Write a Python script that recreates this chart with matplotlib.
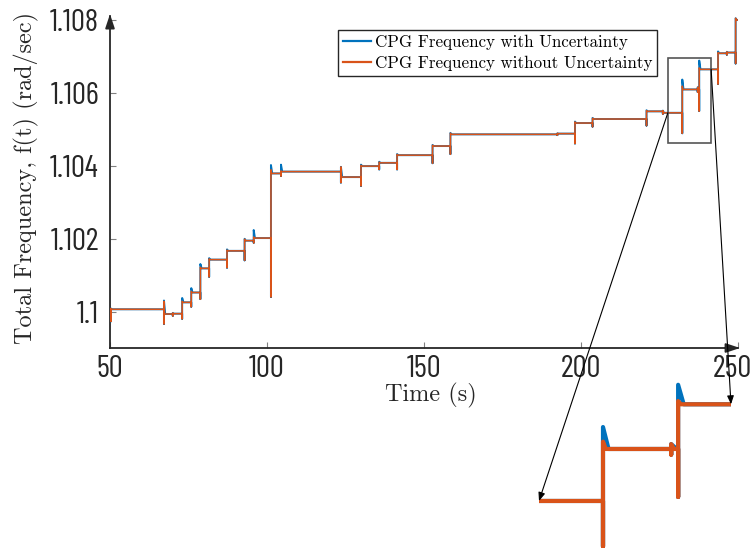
import matplotlib
matplotlib.use("Agg")
import matplotlib.pyplot as plt
from matplotlib import font_manager as fm
from matplotlib.font_manager import FontProperties
from matplotlib.textpath import TextPath
from matplotlib.transforms import ScaledTranslation
from matplotlib.patches import Rectangle, ConnectionPatch
from matplotlib.lines import Line2D

# numeric tick labels use a tall, narrow sans face: choose the installed
# upright sans font whose "1.108" has the most compact width/height shape
TICK_SHAPE = 2.09       # width / digit height of "1.108"
TICK_DIGIT_PX = 22.5    # digit height in pixels


def _is_plain_sans(f):
    tag = (f.name + " " + f.fname).lower()
    bad = ("mono", "serif", "cjk", "math", "symbol", "display", "emoji",
           "italic", "oblique", "cmr", "cmex", "cmsy", "cmmi", "cmtt", "cmb",
           "stix")
    if any(b in tag for b in bad):
        return False
    if f.style != "normal" or f.weight not in (400, "normal", "regular"):
        return False
    return True


_best, _best_err, _best_h = None, None, None
for f in fm.fontManager.ttflist:
    if not _is_plain_sans(f):
        continue
    try:
        ext = TextPath((0, 0), "1.108", size=100,
                       prop=FontProperties(fname=f.fname)).get_extents()
    except Exception:
        continue
    if ext.height <= 0:
        continue
    err = abs(ext.width / ext.height - TICK_SHAPE)
    if _best_err is None or err < _best_err:
        _best, _best_err, _best_h = f, err, ext.height

if _best is not None:
    TICK_SIZE = TICK_DIGIT_PX / _best_h * 100 * 0.72
    TICK_PROP = FontProperties(fname=_best.fname, size=TICK_SIZE)
else:
    TICK_PROP = FontProperties(family="DejaVu Sans", size=17)

BLUE = "#0072BD"
ORANGE = "#D95319"
SERIF = "cmr10"
plt.rcParams['axes.formatter.use_mathtext'] = True

# ---- data: frequency command switching events -----------------------------
t_start, t_end = 48.0, 250.0
level_start = 1.10008

step_time = [50.3, 67.2, 70.0, 73.0, 75.9, 78.8, 81.6, 87.3, 92.9, 95.8,
             101.3, 104.5, 123.6, 130.0, 135.8, 141.5, 152.8, 158.5, 192.6,
             198.2, 203.8, 221.0, 226.2, 232.4, 237.3, 237.8, 243.8, 246.6,
             249.4]
# settled frequency after each event
level = [1.10008, 1.09995, 1.09996, 1.10027, 1.10054, 1.10120, 1.10144,
         1.10168, 1.10196, 1.10203, 1.10380, 1.10385, 1.10370, 1.10400,
         1.10409, 1.10430, 1.10455, 1.10487, 1.10489, 1.10518, 1.10529,
         1.10550, 1.10546, 1.10610, 1.10610, 1.10665, 1.10709, 1.10711,
         1.10800]
# lowest value of the switching transient
dip = [1.09975, 1.09968, 1.09990, 1.09982, 1.10015, 1.10036, 1.10097,
       1.10122, 1.10142, 1.10190, 1.10042, 1.10373, 1.10355, 1.10346,
       1.10391, 1.10391, 1.10408, 1.10433, 1.10485, 1.10462, 1.10508,
       1.10511, 1.10543, 1.10490, 1.10603, 1.10551, 1.10625, 1.10705,
       1.10681]
# overshoot without uncertainty
peak_nominal = [1.10010, 1.10030, 1.09998, 1.10030, 1.10057, 1.10123,
                1.10146, 1.10170, 1.10200, 1.10206, 1.10390, 1.10387,
                1.10398, 1.10402, 1.10411, 1.10432, 1.10457, 1.10490,
                1.10490, 1.10521, 1.10531, 1.10552, 1.10552, 1.10619,
                1.10616, 1.10669, 1.10711, 1.10713, 1.10805]
# overshoot with uncertainty
peak_uncertain = [1.10010, 1.10032, 1.09998, 1.10039, 1.10066, 1.10132,
                  1.10148, 1.10172, 1.10201, 1.10225, 1.10403, 1.10404,
                  1.10398, 1.10404, 1.10412, 1.10433, 1.10458, 1.10491,
                  1.10490, 1.10522, 1.10532, 1.10553, 1.10552, 1.10637,
                  1.10616, 1.10689, 1.10714, 1.10713, 1.10805]

x_ticks = [50, 100, 150, 200, 250]
x_tick_labels = ["50", "100", "150", "200", "250"]
y_ticks = [1.1, 1.102, 1.104, 1.106, 1.108]
y_tick_labels = ["1.1", "1.102", "1.104", "1.106", "1.108"]

zoom_t = (227.8, 241.6)
zoom_f = (1.10464, 1.10696)
link_left = (227.8, 1.10546)
link_right = (241.6, 1.10665)


def trace(peaks, settle):
    t, v = [t_start], [level_start]
    prev = level_start
    for ti, lv, lo, hi in zip(step_time, level, dip, peaks):
        t += [ti, ti, ti, ti + settle]
        v += [prev, lo, hi, lv]
        prev = lv
    t.append(t_end)
    v.append(prev)
    return t, v


tu, fu = trace(peak_uncertain, 0.4)
tn, fn = trace(peak_nominal, 0.2)

# ---- figure ---------------------------------------------------------------
W, H = 754, 548
fig = plt.figure(figsize=(W / 100, H / 100), dpi=100)


def fx(px):
    return px / W


def fy(py):
    return 1 - py / H


ax = fig.add_axes([fx(110), fy(348), fx(737.5) - fx(110), fy(16.4) - fy(348)])
ax.plot(tu, fu, color=BLUE, lw=1.4, zorder=3)
ax.plot(tn, fn, color=ORANGE, lw=1.1, zorder=4)
ax.set_xlim(50, 250)
ax.set_ylim(1.09902, 1.1081)

for s in ("top", "right"):
    ax.spines[s].set_visible(False)
for s in ("left", "bottom"):
    ax.spines[s].set_color("#262626")
    ax.spines[s].set_linewidth(1.3)

ax.set_xticks(x_ticks)
ax.set_xticklabels(x_tick_labels)
ax.set_yticks(y_ticks)
ax.set_yticklabels(y_tick_labels)
ax.tick_params(direction="in", length=4, width=0.8, color="#808080",
               labelcolor="#262626")
ax.tick_params(axis="x", pad=5)
ax.tick_params(axis="y", pad=8)
for lab in ax.get_xticklabels() + ax.get_yticklabels():
    lab.set_fontproperties(TICK_PROP)

# keep the last time label inside the canvas
last = ax.xaxis.get_major_ticks()[-1].label1
last.set_transform(last.get_transform()
                   + ScaledTranslation(-5 / 100, 0, fig.dpi_scale_trans))

# axis arrowheads
arrow_style = "-|>,head_length=0.6,head_width=0.2"
ax.annotate("", xy=(1.004, 0), xytext=(0.98, 0), xycoords="axes fraction",
            arrowprops=dict(arrowstyle=arrow_style, color="#262626", lw=1.3,
                            mutation_scale=14, shrinkA=0, shrinkB=0))
ax.annotate("", xy=(0, 1.007), xytext=(0, 0.97), xycoords="axes fraction",
            arrowprops=dict(arrowstyle=arrow_style, color="#262626", lw=1.3,
                            mutation_scale=14, shrinkA=0, shrinkB=0))

# zoom window
ax.add_patch(Rectangle((zoom_t[0], zoom_f[0]), zoom_t[1] - zoom_t[0],
                       zoom_f[1] - zoom_f[0], fill=False, ec="#555555",
                       lw=1.2, zorder=5))

# labels
fig.text(fx(431), fy(395), "Time (s)", family=SERIF, size=17.5,
         ha="center", va="center", color="#262626")
fig.text(fx(26), fy(178), "Total Frequency, f(t) (rad/sec)", family=SERIF,
         size=17.5, rotation=90, ha="center", va="center", color="#262626")

# legend
handles = [Line2D([], [], color=BLUE, lw=1.6),
           Line2D([], [], color=ORANGE, lw=1.6)]
leg = ax.legend(handles, ["CPG Frequency with Uncertainty",
                          "CPG Frequency without Uncertainty"],
                loc="upper left", bbox_to_anchor=(fx(338), fy(30)),
                bbox_transform=fig.transFigure, borderaxespad=0,
                prop={"family": SERIF, "size": 12.2}, handlelength=1.66,
                handletextpad=0.2, borderpad=0.3, labelspacing=0.32,
                fancybox=False, framealpha=1, edgecolor="#262626")
leg.get_frame().set_linewidth(1.0)

# magnified view
axin = fig.add_axes([fx(539), fy(567.6), fx(731) - fx(539),
                     fy(379.1) - fy(567.6)])
axin.plot(tu, fu, color=BLUE, lw=3.0, solid_capstyle="round")
axin.plot(tn, fn, color=ORANGE, lw=3.0, solid_capstyle="round")
axin.set_xlim(*zoom_t)
axin.set_ylim(*zoom_f)
axin.axis("off")
axin.patch.set_alpha(0)

for pt in (link_left, link_right):
    con = ConnectionPatch(xyA=pt, coordsA=ax.transData, xyB=pt,
                          coordsB=axin.transData,
                          arrowstyle="-|>,head_length=0.5,head_width=0.2",
                          mutation_scale=10, color="black", lw=0.8,
                          shrinkA=0, shrinkB=0, zorder=6)
    fig.add_artist(con)

fig.savefig("out.png", dpi=100)
